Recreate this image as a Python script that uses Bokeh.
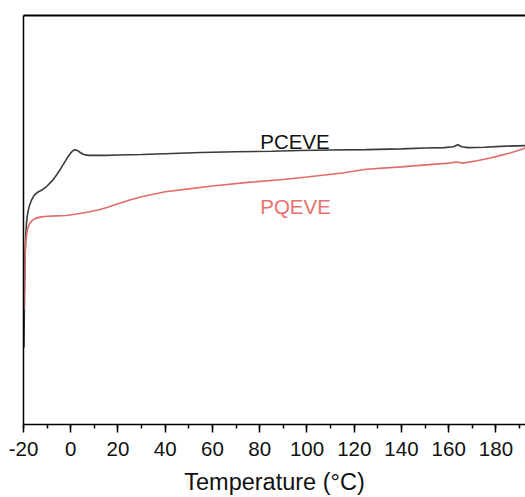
from bokeh.plotting import figure
from bokeh.models import Range1d, LinearAxis, FixedTicker, SingleIntervalTicker, ColumnDataSource
from bokeh.core.properties import value
from bokeh.embed import file_html
from bokeh.resources import INLINE

# PCEVE (black) trace
pceve_t = [-19.8, -19.6, -19.4, -19.1, -18.7, -18.2, -17.5, -16.5, -15.5, -14.0, -12.0, -10.0,
           -8.0, -6.0, -4.0, -2.5, -1.0, 0.0, 1.0, 1.8, 2.8, 4.0, 5.5, 7.5, 10, 15, 20, 30, 40,
           55, 70, 85, 97, 110, 125, 140, 150, 158, 162, 163.8, 165.5, 168, 175, 182, 192.5]
pceve_h = [18.8, 30, 40, 45.5, 49.5, 51.8, 53.5, 55.0, 56.0, 56.8, 57.4, 58.3,
           59.5, 61.0, 62.8, 64.2, 65.6, 66.4, 67.0, 67.2, 67.0, 66.5, 66.0, 65.8, 65.8, 65.8,
           65.9, 66.0, 66.2, 66.5, 66.7, 66.8, 67.0, 67.1, 67.2, 67.4, 67.6, 67.7, 67.9, 68.4,
           67.9, 67.7, 67.8, 68.0, 68.2]

# PQEVE (red) trace
pqeve_t = [-19.8, -19.6, -19.3, -18.9, -18.3, -17.5, -16.5, -15.0, -13.0, -10.0, -6.0, -2.0,
           2.0, 5.0, 8.0, 12, 16, 20, 25, 30, 35, 40, 50, 60, 75, 90, 100, 115, 125, 140, 153,
           160, 163.5, 166, 172, 178, 182, 186, 190, 192.5]
pqeve_h = [28, 35, 41.5, 45.5, 47.8, 49.0, 49.8, 50.4, 50.7, 50.9, 51.0, 51.1,
           51.4, 51.7, 52.0, 52.5, 53.2, 54.0, 54.9, 55.7, 56.3, 56.9, 57.6, 58.3, 59.2, 59.9,
           60.5, 61.5, 62.4, 63.0, 63.6, 63.9, 64.2, 63.9, 64.5, 65.2, 65.8, 66.4, 67.1, 67.6]

labels = ["PCEVE", "PQEVE"]
label_t = [80.2, 80.2]
label_h = [69.3, 53.3]
label_colors = ["#111111", "#e8716f"]

x_ticks = [-20, 0, 20, 40, 60, 80, 100, 120, 140, 160, 180]
x_tick_labels = ["-20", "0", "20", "40", "60", "80", "100", "120", "140", "160", "180"]

FONT = "Liberation Sans"

p = figure(width=525, height=497, output_backend="svg", toolbar_location=None,
           x_range=Range1d(-20, 192.5), y_range=Range1d(0, 100),
           min_border_left=23, min_border_top=15, min_border_right=0, min_border_bottom=73,
           x_axis_location=None, y_axis_location=None)
p.outline_line_color = None
p.xgrid.visible = False
p.ygrid.visible = False
p.background_fill_color = "white"
p.border_fill_color = "white"

xb = LinearAxis(ticker=SingleIntervalTicker(interval=20, num_minor_ticks=2),
                axis_label="Temperature (°C)")
xb.major_label_overrides = {t: s for t, s in zip(x_ticks, x_tick_labels)}
xb.axis_line_width = 1.5
xb.axis_line_color = "black"
xb.major_tick_in = 0
xb.major_tick_out = 8
xb.minor_tick_in = 0
xb.minor_tick_out = 4
xb.major_tick_line_width = 1.5
xb.minor_tick_line_width = 1.5
xb.major_label_text_font = FONT
xb.major_label_text_font_size = "20.5px"
xb.major_label_text_color = "#111111"
xb.major_label_standoff = 9
xb.axis_label_text_font = FONT
xb.axis_label_text_font_size = "23.5px"
xb.axis_label_text_font_style = "normal"
xb.axis_label_text_color = "#111111"
xb.axis_label_standoff = 10
p.add_layout(xb, "below")

yl = LinearAxis(ticker=FixedTicker(ticks=[]))
yl.axis_line_width = 1.5
yl.axis_line_color = "black"
yl.major_label_standoff = 0
yl.major_tick_out = 0
yl.major_tick_in = 0
p.add_layout(yl, "left")

xt = LinearAxis(ticker=FixedTicker(ticks=[]))
xt.axis_line_width = 2
xt.axis_line_color = "black"
xt.major_label_standoff = 0
xt.major_tick_out = 0
xt.major_tick_in = 0
p.add_layout(xt, "above")

p.line(pceve_t, pceve_h, line_color="#3a3a3a", line_width=1.6)
p.line(pqeve_t, pqeve_h, line_color="#e36b6b", line_width=1.6)

src = ColumnDataSource(dict(x=label_t, y=label_h, t=labels, c=label_colors))
p.text(x="x", y="y", text="t", text_color="c", source=src,
       text_font=value(FONT), text_font_size="20.5px",
       text_baseline="alphabetic", text_align="left")

open("out.html", "w").write(file_html(p, INLINE))
